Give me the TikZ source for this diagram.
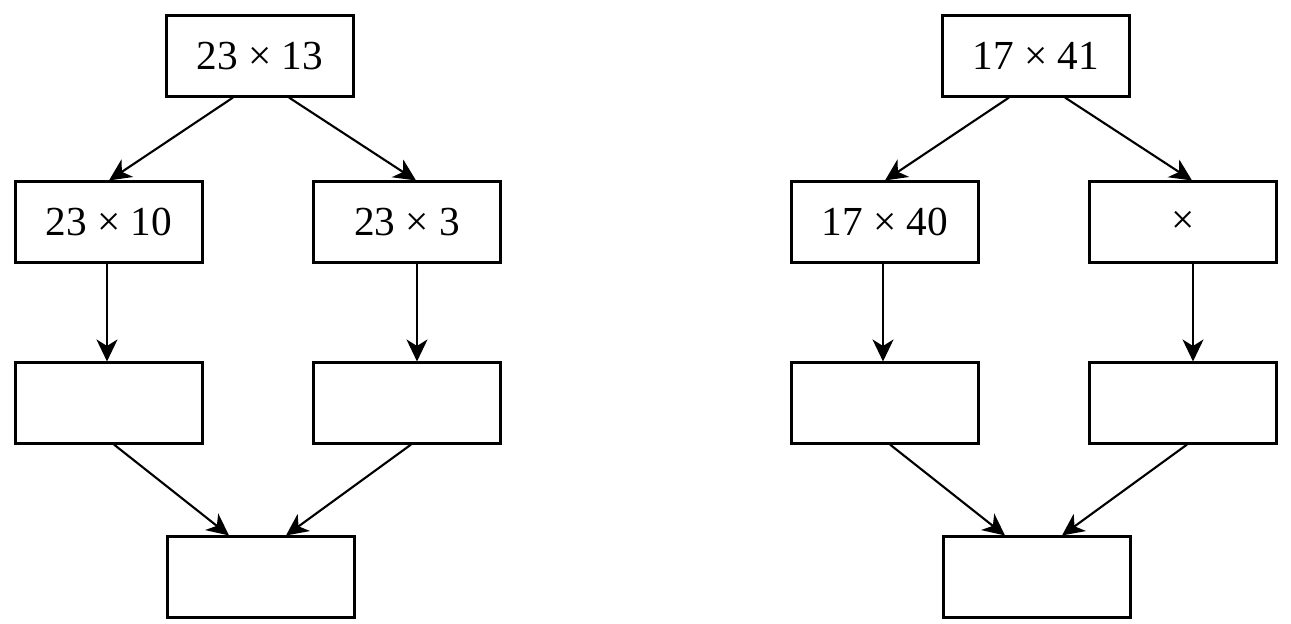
\documentclass[tikz,border=0pt]{standalone}
\usepackage{fontspec}
\setmainfont{Liberation Serif}
\usetikzlibrary{arrows.meta,calc}
\begin{document}
\begin{tikzpicture}[
    x=0.02cm, y=-0.02cm,
    box/.style={draw=black, line width=1.2pt, minimum width=3.74cm, minimum height=1.62cm, inner sep=0pt, font=\fontsize{23.5}{28}\selectfont},
    arr/.style={line width=1.2pt, -{Stealth[length=4.4mm, width=4.2mm, inset=1.3mm]}}
]
\useasboundingbox (0,0) rectangle (1291,623);

% Dos árboles, uno al lado del otro
% Formato: nombre, desplazamiento en X, arriba, izquierda, derecha
\foreach \t/\xo/\headtxt/\lefttxt/\righttxt in {
    A/0/{23 × 13}/{23 × 10}/{23 × 3},
    B/776/{17 × 41}/{17 × 40}/{×}
} {
    % Recuadros
    \node[box] (\t top) at (260+\xo, 56) {\headtxt};
    \node[box] (\t lm) at (109+\xo, 222) {\lefttxt};
    \node[box] (\t rm) at (407+\xo, 222) {\righttxt};
    \node[box] (\t lb) at (109+\xo, 403) {};
    \node[box] (\t rb) at (407+\xo, 403) {};
    \node[box] (\t bot) at (261+\xo, 577) {};
    % Flechas
    \draw[arr] ($(\t top.south)+(-27,0)$) -- (\t lm.north);
    \draw[arr] ($(\t top.south)+(29,0)$) -- ($(\t rm.north)+(9,0)$);
    \draw[arr] ($(\t lm.south)+(-2,0)$) -- ($(\t lb.north)+(-2,0)$);
    \draw[arr] ($(\t rm.south)+(10,0)$) -- ($(\t rb.north)+(10,0)$);
    \draw[arr] ($(\t lb.south)+(5,0)$) -- ($(\t bot.north)+(-32,0)$);
    \draw[arr] ($(\t rb.south)+(4,0)$) -- ($(\t bot.north)+(25,0)$);
}
\end{tikzpicture}
\end{document}
